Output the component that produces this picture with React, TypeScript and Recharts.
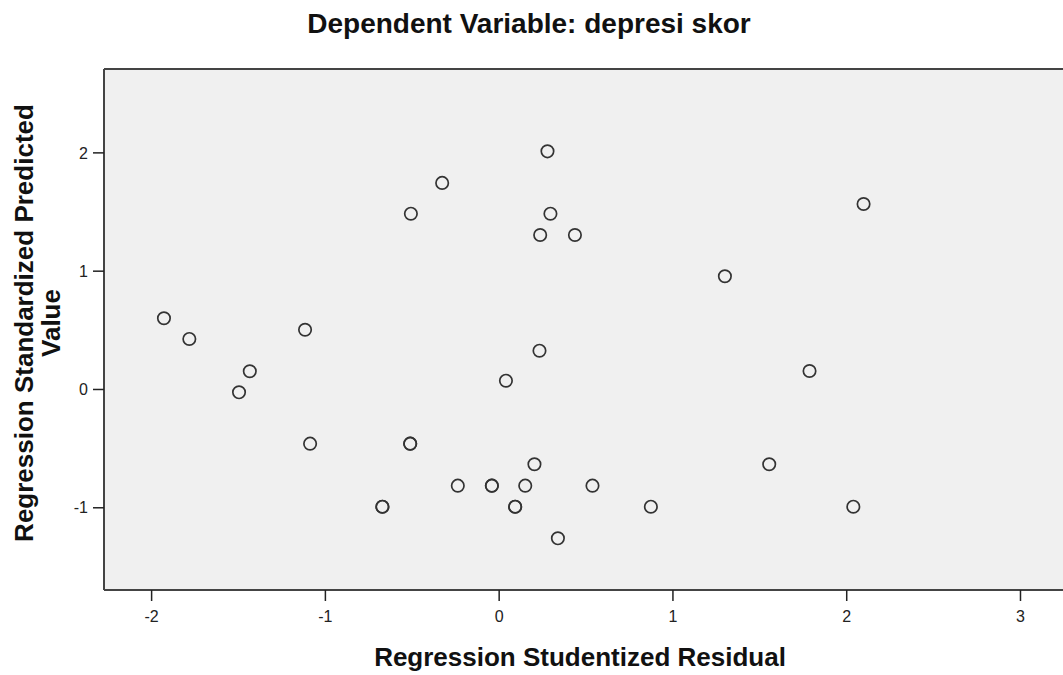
import React from "react";
import {
  ScatterChart,
  Scatter,
  XAxis,
  YAxis,
  CartesianGrid,
  ReferenceLine,
} from "recharts";

// studentized residual (x) vs standardized predicted value (y)
const residuals = [
  -1.929, -1.783, -1.435, -1.497, -1.117, -1.088, -0.672, -0.672, -0.512, -0.512,
  -0.508, -0.328, -0.238, -0.042, -0.042, 0.039, 0.092, 0.092, 0.15, 0.203,
  0.232, 0.236, 0.278, 0.295, 0.338, 0.436, 0.537, 0.873, 1.299, 1.554,
  1.786, 2.038, 2.097,
];
const predicted = [
  0.602, 0.427, 0.154, -0.024, 0.505, -0.458, -0.991, -0.991, -0.458, -0.458,
  1.486, 1.746, -0.813, -0.813, -0.813, 0.074, -0.991, -0.991, -0.813, -0.632,
  0.328, 1.306, 2.013, 1.486, -1.258, 1.306, -0.813, -0.991, 0.957, -0.632,
  0.156, -0.991, 1.568,
];
const xTicks = [-2, -1, 0, 1, 2, 3];
const yTicks = [-1, 0, 1, 2];

const title = "Dependent Variable: depresi skor";
const xTitle = "Regression Studentized Residual";
const yTitle = ["Regression Standardized Predicted", "Value"];

const X_MIN = -2.274;
const X_MAX = 3.4;
const Y_MIN = -1.695;
const Y_MAX = 2.709;

const points = residuals.map((x, i) => ({ x, y: predicted[i] }));

const font = "'Liberation Sans', Arial, sans-serif";

const Ring = (props: any) => {
  const { cx, cy } = props;
  if (cx == null || cy == null) return <g />;
  return <circle cx={cx} cy={cy} r={6.2} fill="none" stroke="#333" strokeWidth={1.7} />;
};

const labelStyle = {
  fontFamily: font,
  fontWeight: "bold" as const,
  fill: "#111",
};

export default function App() {
  return (
    <div
      style={{
        position: "fixed",
        left: 0,
        top: 0,
        width: 1063,
        height: 675,
        overflow: "hidden",
        background: "#fff",
      }}
    >
      <ScatterChart
        width={1090}
        height={675}
        margin={{ top: 69, right: 0, bottom: 0, left: 0 }}
      >
        <CartesianGrid fill="#f0f0f0" horizontal={false} vertical={false} />
        <XAxis
          type="number"
          dataKey="x"
          domain={[X_MIN, X_MAX]}
          ticks={xTicks}
          height={85}
          allowDataOverflow
          axisLine={{ stroke: "#444", strokeWidth: 2 }}
          tickLine={{ stroke: "#222", strokeWidth: 1.5 }}
          tickSize={11}
          tickMargin={10}
          tick={{ fill: "#222", fontSize: 16, fontFamily: font }}
        />
        <YAxis
          type="number"
          dataKey="y"
          domain={[Y_MIN, Y_MAX]}
          ticks={yTicks}
          width={104}
          allowDataOverflow
          axisLine={{ stroke: "#444", strokeWidth: 2 }}
          tickLine={{ stroke: "#222", strokeWidth: 1.5 }}
          tickSize={11}
          tickMargin={5}
          tick={{ fill: "#222", fontSize: 16, fontFamily: font }}
        />
        <ReferenceLine y={Y_MAX} stroke="#444" strokeWidth={2} />
        <Scatter data={points} shape={<Ring />} isAnimationActive={false} />
      </ScatterChart>
      <svg
        width={1063}
        height={675}
        style={{ position: "absolute", left: 0, top: 0, pointerEvents: "none" }}
      >
        <text x={529} y={33} textAnchor="middle" fontSize={28} {...labelStyle}>
          {title}
        </text>
        <text x={580} y={666} textAnchor="middle" fontSize={26} {...labelStyle}>
          {xTitle}
        </text>
        <text transform="rotate(-90, 0, 323)" x={0} y={323} textAnchor="middle" fontSize={26} {...labelStyle}>
          <tspan x={0} y={323 + 33}>{yTitle[0]}</tspan>
          <tspan x={0} y={323 + 60}>{yTitle[1]}</tspan>
        </text>
      </svg>
    </div>
  );
}
